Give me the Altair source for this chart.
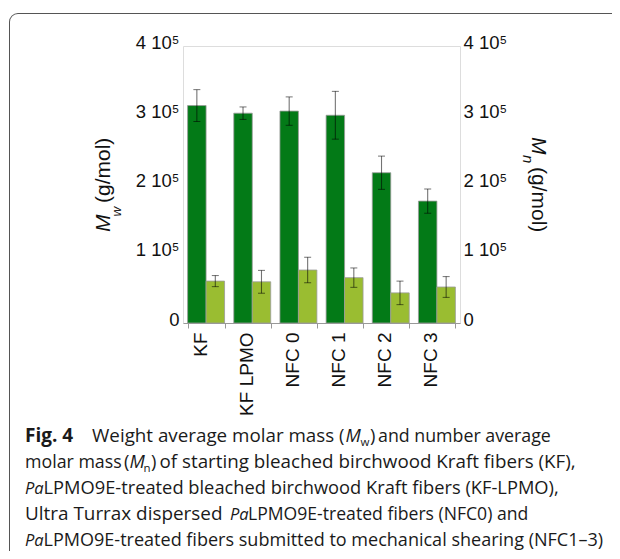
import altair as alt
import pandas as pd

# ---- data ----
categories = ["KF", "KF LPMO", "NFC 0", "NFC 1", "NFC 2", "NFC 3"]
mw = [314000, 303000, 306000, 300000, 217000, 176000]
mw_err = [23000, 9000, 20500, 34500, 24000, 17500]
mn = [60500, 59500, 76500, 65500, 43500, 52000]
mn_err = [8000, 16500, 18500, 14000, 17000, 15000]
series = ["Mw", "Mn"]
tick_values = [0, 100000, 200000, 300000, 400000]

rows = []
for c, v, e in zip(categories, mw, mw_err):
    rows.append({"cat": c, "series": "Mw", "value": v, "lo": v - e, "hi": v + e})
for c, v, e in zip(categories, mn, mn_err):
    rows.append({"cat": c, "series": "Mn", "value": v, "lo": v - e, "hi": v + e})
df = pd.DataFrame(rows)

# plot origin on the page (page has 8px margin)
PAD_L, PAD_T = 175, 38
OX, OY = PAD_L + 8, PAD_T + 8
W, H = 277, 277

AXIS_FONT = "Liberation Sans"
CAP_FONT = "Open Sans"
TXT = "#1a1a1a"
CS = 18.3  # caption font size

x_enc = alt.X(
    "cat:N", sort=categories,
    scale=alt.Scale(paddingInner=0.2, paddingOuter=0.1),
    axis=alt.Axis(
        title=None, labelAngle=270, labelAlign="right", labelBaseline="alphabetic",
        labelFont=AXIS_FONT, labelFontSize=19, labelColor="#111",
        tickBand="extent", tickSize=5, tickColor="#999", domainColor="#999",
        labelPadding=4, grid=False,
    ),
)
xo_enc = alt.XOffset("series:N", sort=series, scale=alt.Scale(paddingInner=0, paddingOuter=0))
yscale = alt.Scale(domain=[0, 400000], nice=False)
label_expr = "datum.value == 0 ? '0' : format(datum.value / 100000, 'd') + ' 10\u2075'"

bars = alt.Chart(df).mark_bar(stroke="#9a9a9a", strokeWidth=0.8).encode(
    x=x_enc,
    xOffset=xo_enc,
    y=alt.Y("value:Q", scale=yscale, axis=alt.Axis(
        orient="left", values=tick_values, labelExpr=label_expr, title=None,
        labelFont=AXIS_FONT, labelFontSize=18.5, labelColor="#111",
        ticks=False, domain=False, grid=False, labelPadding=4, labelOffset=-4)),
    color=alt.Color("series:N", scale=alt.Scale(domain=series, range=["#037a17", "#9abd31"]), legend=None),
)

err_rule = alt.Chart(df).mark_rule(color="#000", opacity=0.55, strokeWidth=1.1).encode(
    x=x_enc, xOffset=xo_enc,
    y=alt.Y("lo:Q", scale=yscale, axis=alt.Axis(
        orient="right", values=tick_values, labelExpr=label_expr, title=None,
        labelFont=AXIS_FONT, labelFontSize=18.5, labelColor="#111",
        ticks=False, domain=False, grid=False, labelPadding=3, labelOffset=-4)),
    y2="hi:Q",
)
cap_lo = alt.Chart(df).mark_tick(color="#000", opacity=0.55, thickness=1, size=7).encode(
    x=x_enc, xOffset=xo_enc, y=alt.Y("lo:Q", scale=yscale, axis=None))
cap_hi = alt.Chart(df).mark_tick(color="#000", opacity=0.55, thickness=1, size=7).encode(
    x=x_enc, xOffset=xo_enc, y=alt.Y("hi:Q", scale=yscale, axis=None))

anchor = pd.DataFrame({"k": [0]})


def txt(s, px, py, size, font=CAP_FONT, style="normal", weight="normal", angle=0, color=TXT):
    return alt.Chart(anchor).mark_text(
        text=s, font=font, fontSize=size, fontStyle=style, fontWeight=weight,
        angle=angle, align="left", baseline="alphabetic", color=color,
    ).encode(x=alt.value(px - OX), y=alt.value(py - OY))


# figure frame: top and left lines with a rounded top-left corner
FR = 9
frame_top = alt.Chart(anchor).mark_rule(color="#555", strokeWidth=1).encode(
    x=alt.value(9 + FR - OX), x2=alt.value(700), y=alt.value(13.5 - OY))
frame_left = alt.Chart(anchor).mark_rule(color="#555", strokeWidth=1).encode(
    x=alt.value(9.5 - OX), y=alt.value(13 + FR - OY), y2=alt.value(700))
frame_corner = alt.Chart(anchor).mark_arc(color="#555", radius=FR, radius2=FR - 1,
                                          theta=4.7124, theta2=6.2832).encode(
    x=alt.value(9 + FR - OX), y=alt.value(13 + FR - OY))

B1, B2, B3, B4, B5 = 441.5, 467.5, 493.5, 519.5, 545.5

labels = [
    # left axis title
    txt("M", 110, 232, 21, font=AXIS_FONT, style="italic", angle=270, color="#111"),
    txt("w", 121, 216.5, 13.5, font=AXIS_FONT, style="italic", angle=270, color="#111"),
    txt("(g/mol)", 110, 203, 21, font=AXIS_FONT, angle=270, color="#111"),
    # right axis title
    txt("M", 532, 137, 21, font=AXIS_FONT, style="italic", angle=90, color="#111"),
    txt("n", 523, 155, 15, font=AXIS_FONT, style="italic", angle=90, color="#111"),
    txt("(g/mol)", 532, 167, 21, font=AXIS_FONT, angle=90, color="#111"),
    # caption
    txt("Fig. 4", 25, B1, 19, weight="bold"),
    txt("Weight average molar mass", 92, B1, 18.8),
    txt("(", 339, B1, CS),
    txt("M", 345.5, B1, CS, style="italic"),
    txt("w", 360.5, B1 + 4, 11.5),
    txt(")", 370, B1, CS),
    txt("and number average", 378, B1, 17.8),
    txt("molar mass", 25, B2, 17.8),
    txt("(", 124, B2, CS),
    txt("M", 129.5, B2, CS, style="italic"),
    txt("n", 143.5, B2 + 4, 11.5),
    txt(")", 151, B2, CS),
    txt("of starting bleached birchwood Kraft fibers (KF),", 159.5, B2, 18.8),
    txt("Pa", 25, B3, 16.5, style="italic"),
    txt("LPMO9E-treated bleached birchwood Kraft fibers (KF-LPMO),", 43.5, B3, CS),
    txt("Ultra Turrax dispersed", 25, B4, 18.9),
    txt("Pa", 230, B4, 16.5, style="italic"),
    txt("LPMO9E-treated fibers (NFC0) and", 248, B4, 17.6),
    txt("Pa", 25, B5, 16.5, style="italic"),
    txt("LPMO9E-treated fibers submitted to mechanical shearing (NFC1\u20133)", 43.5, B5, 18.05),
]

chart = alt.layer(frame_top, frame_left, frame_corner, bars, err_rule, cap_lo, cap_hi, *labels).resolve_axis(
    y="independent"
).properties(
    width=W, height=H,
    autosize=alt.AutoSizeParams(type="none"),
    padding={"left": PAD_L, "top": PAD_T, "right": 604 - PAD_L - W, "bottom": 543 - PAD_T - H},
).configure_view(stroke="#999", strokeWidth=1).configure(background="white")

chart.save("out.html", embed_options={"renderer": "svg", "actions": False})
